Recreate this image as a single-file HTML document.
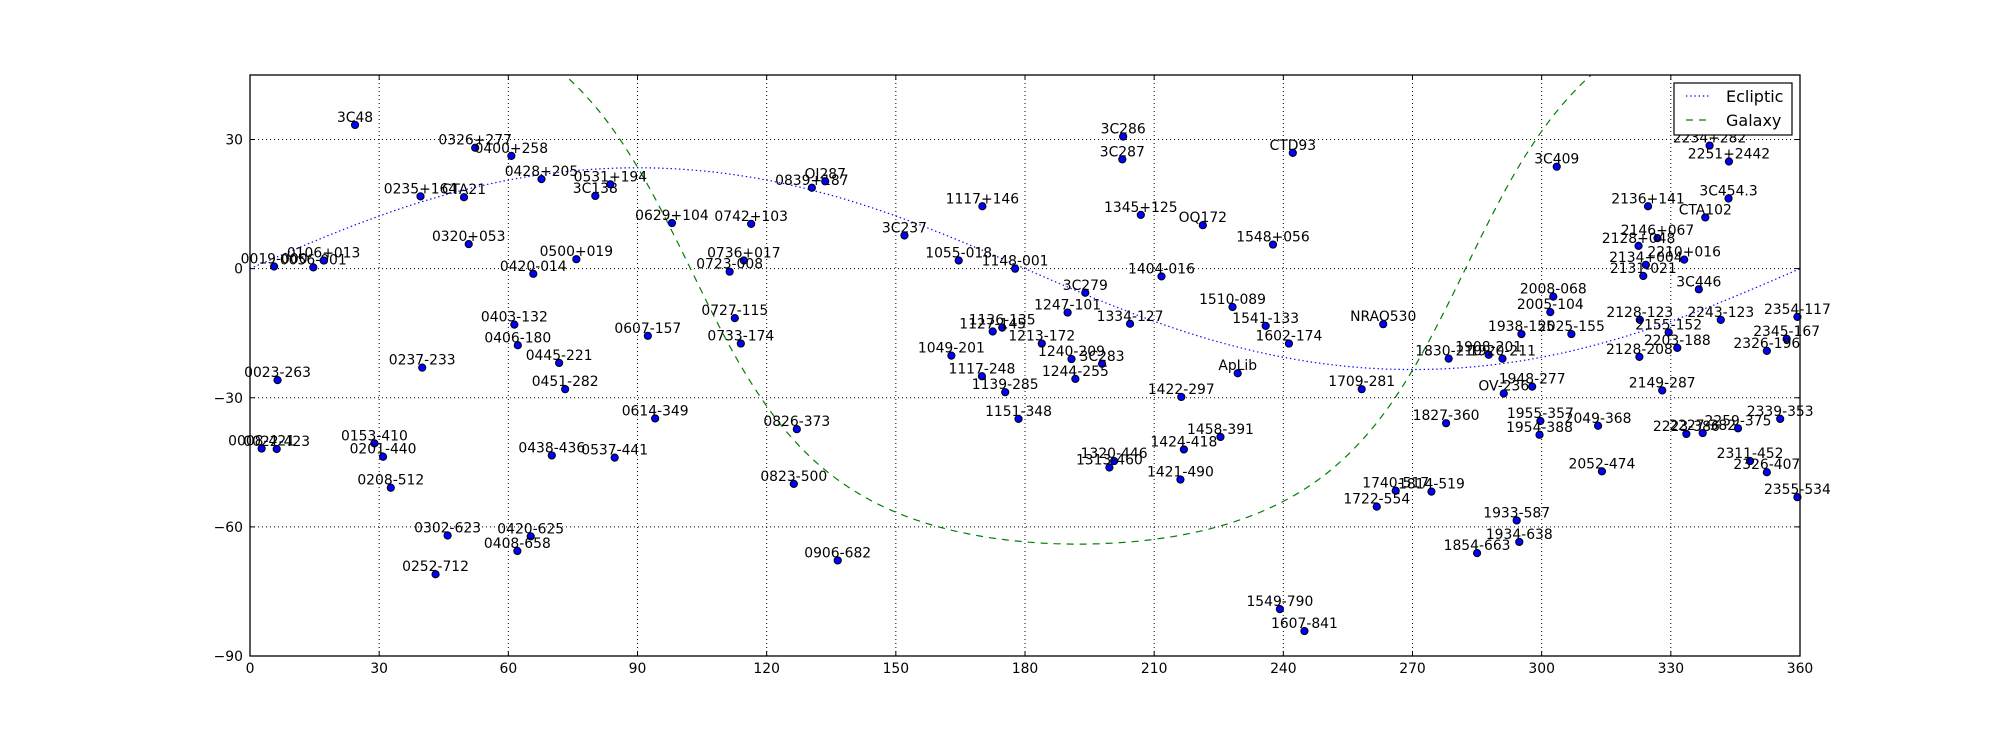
<!DOCTYPE html>
<html><head><meta charset="utf-8"><style>
html,body{margin:0;padding:0;background:#fff;}
svg{display:block;font-family:"DejaVu Sans","Liberation Sans",sans-serif;}
</style></head><body>
<svg id="chart" width="2000" height="750" viewBox="0 0 2000 750">
<defs><clipPath id="plotclip"><rect x="250" y="75" width="1550" height="581"/></clipPath></defs>
<rect width="2000" height="750" fill="#fff"/>
<g id="grid"></g>
<g id="curves" clip-path="url(#plotclip)"></g>
<g id="points"></g>
<rect x="250" y="75" width="1550" height="581" fill="none" stroke="#000" stroke-width="1.3"/>
<g id="ticks"></g>
<g>
<rect x="1674" y="83" width="118" height="52" fill="#fff" stroke="#000" stroke-width="1.2"/>
<line x1="1686" y1="96" x2="1711" y2="96" stroke="#0000ff" stroke-width="1.2" stroke-dasharray="1.4,2.8"/>
<text x="1726" y="102" font-size="16">Ecliptic</text>
<line x1="1686" y1="120" x2="1711" y2="120" stroke="#008000" stroke-width="1.2" stroke-dasharray="7,6"/>
<text x="1726" y="126" font-size="16">Galaxy</text>
</g>
</svg>
<script>
const names=["3C48","0326+277","0400+258","0428+205","3C138","0235+164","CTA21","0320+053","0500+019","0420-014","0019-000","0056-001","0106+013",
"0531+194","0629+104","0742+103","0736+017","0723-008","0839+187","OJ287","3C237","1055-018","1117+146","1148-001",
"3C286","3C287","CTD93","1345+125","OQ172","1548+056","1404-016","3C279",
"1247-101","1334-127","1213-172","1240-209","3C283","1244-255","1510-089","1541-133","1602-174","NRAO530","ApLib","1709-281","1422-297","1151-348","1458-391","1424-418","1320-446","1313-460","1421-490","1740-517","1722-554",
"1814-519","1933-587","1934-638","1854-663","1549-790","1607-841",
"1136-135","1127-145","1049-201","1117-248","1139-285",
"0607-157","0727-115","0733-174","0614-349","0826-373","0537-441","0823-500","0906-682",
"0403-132","0406-180","0445-221","0451-282","0237-233","0023-263","0008-421","0022-423","0153-410","0201-440","0208-512","0438-436",
"0302-623","0420-625","0408-658","0252-712",
"3C409","2234+282","2251+2442","3C454.3","CTA102","2136+141","2146+067","2128+048","2210+016","2134+004","2131-021","3C446","2008-068",
"2005-104","1938-155","2025-155","1830-210","1908-201","1920-211","OV-236","1948-277","1827-360","1955-357","1954-388","2049-368","2052-474",
"2128-123","2155-152","2203-188","2128-208","2149-287","2243-123","2354-117","2345-167","2326-196","2339-353","2259-375","2223-386","2227-382","2311-452","2326-407","2355-534"];
const ras=[24.4,52.3,60.7,67.7,80.2,39.6,49.7,50.8,75.8,65.8,5.6,14.7,17.1,
83.7,98.0,116.4,114.7,111.4,130.5,133.6,152.0,164.6,170.1,177.7,
202.8,202.6,242.2,206.9,221.3,237.6,211.7,194.0,
189.9,204.4,183.9,190.8,197.9,191.7,228.2,235.9,241.3,263.2,229.4,258.2,216.3,178.5,225.4,216.9,200.7,199.6,216.1,266.1,261.7,
274.4,294.2,294.8,285.0,239.2,244.9,
174.7,172.5,162.9,170.0,175.4,
92.4,112.6,114.0,94.1,127.0,84.7,126.3,136.5,
61.4,62.2,71.8,73.2,40.0,6.4,2.7,6.2,28.9,30.9,32.7,70.1,
45.9,65.2,62.1,43.1,
303.5,339.0,343.5,343.4,338.0,324.7,326.9,322.5,333.1,324.2,323.6,336.5,302.7,
302.0,295.3,306.9,278.4,287.7,290.9,291.2,297.8,277.8,299.7,299.5,313.1,314.0,
322.8,329.5,331.5,322.7,328.0,341.6,359.4,356.9,352.3,355.4,345.6,333.6,337.4,348.4,352.3,359.4];
const decs=[33.4,28.1,26.2,20.8,16.9,16.8,16.6,5.7,2.2,-1.2,0.5,0.3,1.9,
19.6,10.6,10.4,1.9,-0.7,18.8,20.3,7.7,1.9,14.5,0.0,
30.7,25.4,26.9,12.5,10.1,5.6,-1.8,-5.6,
-10.2,-12.8,-17.4,-21.0,-22.1,-25.6,-8.9,-13.3,-17.4,-12.9,-24.3,-28.0,-29.8,-34.9,-39.1,-42.0,-44.7,-46.2,-49.0,-51.6,-55.3,
-51.8,-58.5,-63.5,-66.1,-79.1,-84.2,
-13.7,-14.6,-20.2,-25.0,-28.7,
-15.6,-11.5,-17.4,-34.8,-37.3,-43.9,-50.0,-67.8,
-13.0,-17.8,-21.9,-28.0,-23.0,-25.9,-41.8,-41.9,-40.6,-43.7,-50.9,-43.4,
-62.0,-62.2,-65.6,-71.0,
23.7,28.6,24.9,16.3,11.9,14.5,7.1,5.3,2.1,0.9,-1.7,-4.8,-6.5,
-10.1,-15.2,-15.2,-20.9,-20.0,-20.9,-29.0,-27.4,-35.9,-35.4,-38.6,-36.5,-47.1,
-11.9,-14.8,-18.4,-20.5,-28.3,-11.9,-11.2,-16.3,-19.1,-34.9,-37.1,-38.4,-38.2,-44.7,-47.3,-53.1];
const xTicks=[0,30,60,90,120,150,180,210,240,270,300,330,360];
const yTicks=[30,0,-30,-60,-90];
const obliquity=23.44, galPoleRA=192.3, galPoleDec=26.0;

const NS="http://www.w3.org/2000/svg";
const L=250,R=1800,T=75,B=656,RA0=0,RA1=360,DEC0=-90,DEC1=45;
function xs(ra){return L+(ra-RA0)/(RA1-RA0)*(R-L);}
function ys(d){return T+(DEC1-d)/(DEC1-DEC0)*(B-T);}
function mk(tag,attrs,parent){const e=document.createElementNS(NS,tag);for(const k in attrs)e.setAttribute(k,attrs[k]);parent.appendChild(e);return e;}
const grid=document.getElementById('grid'),ticks=document.getElementById('ticks'),curves=document.getElementById('curves'),pts=document.getElementById('points');
const fmt=v=>v<0?'\u2212'+Math.abs(v):String(v);
xTicks.forEach(v=>{
  const x=xs(v);
  if(v>RA0&&v<RA1){const g=mk('line',{x1:x,y1:T,x2:x,y2:B,stroke:'#000','stroke-width':1,'stroke-dasharray':'1,3'},grid);
  
  }
  const tk=mk('path',{d:`M${x},${B}v-5M${x},${T}v5`,stroke:'#000','stroke-width':1},ticks);
  
  
  const t=mk('text',{x:x,y:673,'text-anchor':'middle','font-size':13.9},ticks);t.textContent=fmt(v);
  
  
});
yTicks.forEach(v=>{
  const y=ys(v);
  if(v>DEC0&&v<DEC1){const g=mk('line',{x1:L,y1:y,x2:R,y2:y,stroke:'#000','stroke-width':1,'stroke-dasharray':'1,3'},grid);
  
  }
  const tk=mk('path',{d:`M${L},${y}h5M${R},${y}h-5`,stroke:'#000','stroke-width':1},ticks);
  
  
  const t=mk('text',{x:243,y:y+5,'text-anchor':'end','font-size':13.9},ticks);t.textContent=fmt(v);
  
  
});
const rad=Math.PI/180;
let de='',dg='';
for(let ra=0;ra<=360;ra+=1){
  const e=Math.atan(Math.sin(ra*rad)*Math.tan(obliquity*rad))/rad;
  de+=(ra?'L':'M')+xs(ra).toFixed(1)+','+ys(e).toFixed(1);
  let g=Math.atan(-Math.cos((ra-galPoleRA)*rad)/Math.tan(galPoleDec*rad))/rad;
  g=Math.min(g,60);
  dg+=(ra?'L':'M')+xs(ra).toFixed(1)+','+ys(g).toFixed(1);
}
const ec=mk('path',{d:de,fill:'none',stroke:'#0000ff','stroke-width':1.2,'stroke-dasharray':'1.4,2.8'},curves);


const gl=mk('path',{d:dg,fill:'none',stroke:'#008000','stroke-width':1.2,'stroke-dasharray':'7,6'},curves);


names.forEach((n,i)=>{
  const x=xs(ras[i]),y=ys(decs[i]);
  const c=mk('circle',{cx:x,cy:y,r:3.6,fill:'#0000ff',stroke:'#000','stroke-width':1},pts);
  
  
  const t=mk('text',{x:x,y:y-3,'text-anchor':'middle','font-size':13.9,fill:'#000'},pts);
  t.textContent=n;
  
  
});
</script>
</body></html>
